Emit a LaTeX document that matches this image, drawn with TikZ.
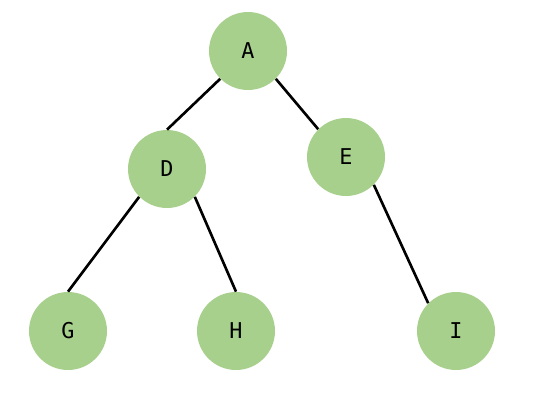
\documentclass[tikz,border=0pt]{standalone}
\usepackage{fontspec}
\setmonofont{DejaVu Sans Mono}
\definecolor{leafgreen}{HTML}{A8D08D}

\begin{document}
\begin{tikzpicture}[x=0.02cm,y=-0.02cm]
\tikzset{vertex/.style={circle,fill=leafgreen,minimum size=1.56cm,inner sep=0pt,
  font=\ttfamily\fontsize{12.4}{15}\selectfont},
  branch/.style={line width=1.5pt}}
\useasboundingbox (0,0) rectangle (546,400);
\node[vertex] (A) at (248,51) {A};
\node[vertex] (D) at (167,169) {D};
\node[vertex] (E) at (346,157) {E};
\node[vertex] (G) at (68,331) {G};
\node[vertex] (H) at (236,331) {H};
\node[vertex] (I) at (456,331) {I};
\draw[branch] (A.south west) -- (D.north);
\draw[branch] (A.south east) -- (E.north west);
\draw[branch] (D.south west) -- (G.north);
\draw[branch] (D.south east) -- (H.north);
\draw[branch] (E.south east) -- (I.north west);
\end{tikzpicture}
\end{document}
